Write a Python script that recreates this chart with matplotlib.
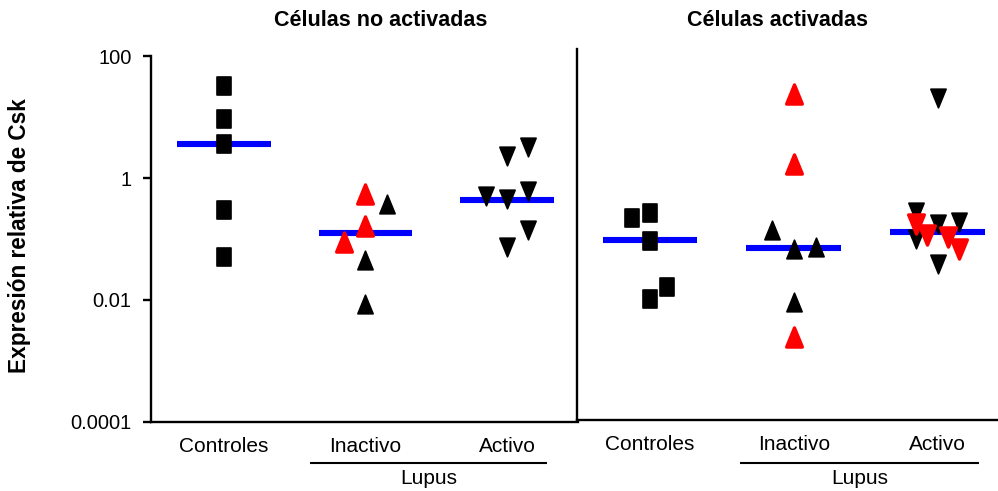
import numpy as np
import matplotlib
matplotlib.use("Agg")
import matplotlib.pyplot as plt
from matplotlib.path import Path
from matplotlib.transforms import blended_transform_factory

plt.rcParams['font.family'] = ['Liberation Sans', 'DejaVu Sans']

# ---------------- data ----------------
categories = ['Controles', 'Inactivo', 'Activo']
group_label = 'Lupus'
panel_titles = ['Células no activadas', 'Células activadas']
y_label = 'Expresión relativa de Csk'
y_ticks = [0.0001, 0.01, 1, 100]
y_tick_labels = ['0.0001', '0.01', '1', '100']

# Panel 1: non-activated cells
ctrl_1 = [32, 9.3, 3.6, 0.30, 0.051]
inact_1 = [0.55, 0.37, 0.165, 0.088, 0.046, 0.0085]
inact_1_red = [1, 0, 1, 1, 0, 0]
act_1 = [3.2, 2.3, 0.51, 0.45, 0.62, 0.14, 0.074]
act_1_red = [0, 0, 0, 0, 0, 0, 0]
median_1 = [3.6, 0.125, 0.44]

# Panel 2: activated cells
ctrl_2 = [0.22, 0.27, 0.094, 0.0103, 0.016]
inact_2 = [24, 1.7, 0.14, 0.068, 0.074, 0.0093, 0.0025]
inact_2_red = [1, 1, 0, 0, 0, 0, 1]
act_2 = [21, 0.28, 0.176, 0.1, 0.117, 0.176, 0.19, 0.107, 0.068, 0.039]
act_2_red = [0, 0, 1, 0, 1, 0, 0, 1, 1, 0]
median_2 = [0.097, 0.072, 0.132]

# horizontal scatter offsets (category units)
ctrl_1_dx = [0, 0, 0, 0, 0]
inact_1_dx = [0, 0.15, 0, -0.15, 0, 0]
act_1_dx = [0.15, 0, -0.15, 0, 0.15, 0.15, 0]
ctrl_2_dx = [-0.125, 0, 0, 0, 0.12]
inact_2_dx = [0, 0, -0.153, 0, 0.153, 0, 0]
act_2_dx = [0, -0.153, -0.153, -0.153, -0.077, 0, 0.15, 0.075, 0.15, 0]

# ---------------- markers ----------------
sq = Path([(-0.395, -0.5), (0.395, -0.5), (0.395, 0.5), (-0.395, 0.5), (-0.395, -0.5)],
          [Path.MOVETO, Path.LINETO, Path.LINETO, Path.LINETO, Path.CLOSEPOLY])
tri_up = Path([(0, 0.5), (-0.41, -0.5), (0.41, -0.5), (0, 0.5)],
              [Path.MOVETO, Path.LINETO, Path.LINETO, Path.CLOSEPOLY])
tri_dn = Path([(0, -0.5), (-0.41, 0.5), (0.41, 0.5), (0, -0.5)],
              [Path.MOVETO, Path.LINETO, Path.LINETO, Path.CLOSEPOLY])
markers = [sq, tri_up, tri_dn]

RED = '#ff0000'
BLUE = '#0000ff'

W, H = 998, 491
fig = plt.figure(figsize=(W / 100, H / 100), dpi=100)

def fx(px):
    return px / W

def fy(py):
    return (H - py) / H

# axes rectangles (pixel based)
axL = fig.add_axes([fx(151), fy(421.7), fx(578) - fx(151), fy(56.3) - fy(421.7)])
axR = fig.add_axes([fx(577), fy(419.5), fx(998) - fx(577), fy(49) - fy(419.5)])

axL.set_yscale('log')
axR.set_yscale('log')
axL.set_ylim(1e-4, 100)
# same vertical scale as left panel (60.9 px / decade, 1 at y=178.1px)
axR.set_ylim(10 ** ((178.1 - 419.5) / 60.9), 10 ** ((178.1 - 49) / 60.9))
axL.set_xlim(-0.516, 2.502)
axR.set_xlim(-0.508, 2.42)

panels = [
    (axL, [ctrl_1, inact_1, act_1], [[0] * 5, inact_1_red, act_1_red],
     [ctrl_1_dx, inact_1_dx, act_1_dx], median_1),
    (axR, [ctrl_2, inact_2, act_2], [[0] * 5, inact_2_red, act_2_red],
     [ctrl_2_dx, inact_2_dx, act_2_dx], median_2),
]

for ax, groups, flags, dxs, meds in panels:
    for i, (vals, fl, dx) in enumerate(zip(groups, flags, dxs)):
        vals = np.asarray(vals, float)
        fl = np.asarray(fl)
        xs = i + np.asarray(dx, float)
        blk = fl == 0
        red = fl == 1
        ms_blk = 12.4 if i == 0 else 13.4
        ax.plot(xs[blk], vals[blk], linestyle='none', marker=markers[i],
                markersize=ms_blk, color='black', markeredgecolor='black',
                markeredgewidth=1.2, zorder=5)
        if red.any():
            ax.plot(xs[red], vals[red], linestyle='none', marker=markers[i],
                    markersize=13.8, color=RED, markeredgecolor=RED,
                    markeredgewidth=2.4, zorder=6)
        ax.plot([i - 0.33, i + 0.33], [meds[i], meds[i]], color=BLUE,
                linewidth=4.4, solid_capstyle='butt', zorder=3)

    for side in ['top', 'right']:
        ax.spines[side].set_visible(False)
    for side in ['left', 'bottom']:
        ax.spines[side].set_linewidth(1.7)
        ax.spines[side].set_color('black')
    ax.set_xticks(range(len(categories)))
    ax.set_xticklabels(categories, fontsize=15)
    ax.tick_params(axis='x', length=0, pad=11)
    ax.minorticks_off()
    ax.patch.set_alpha(0)

axL.set_yticks(y_ticks)
axL.set_yticklabels(y_tick_labels, fontsize=14.5)
axL.tick_params(axis='y', length=6, width=1.7, pad=8, direction='out')
axL.yaxis.set_minor_locator(matplotlib.ticker.NullLocator())
axR.set_yticks([])
axR.yaxis.set_minor_locator(matplotlib.ticker.NullLocator())

# Lupus group underline and label
for ax, (x0, x1) in [(axL, (0.608, 2.283)), (axR, (0.626, 2.288))]:
    tr = blended_transform_factory(ax.transData, fig.transFigure)
    ax.plot([x0, x1], [fy(463), fy(463)], color='black', linewidth=1.5,
            transform=tr, clip_on=False, solid_capstyle='butt')
    ax.text((x0 + x1) / 2, fy(479), group_label, transform=tr, ha='center',
            va='center', fontsize=15)

# titles
fig.text(fx(381), fy(21), panel_titles[0], ha='center', va='center',
         fontsize=15.5, fontweight='bold')
fig.text(fx(777.5), fy(21), panel_titles[1], ha='center', va='center',
         fontsize=15.5, fontweight='bold')

# y label
fig.text(fx(20), fy(236), y_label, rotation=90, ha='center', va='center',
         fontsize=16.3, fontweight='bold')

fig.savefig('out.png', dpi=100)
